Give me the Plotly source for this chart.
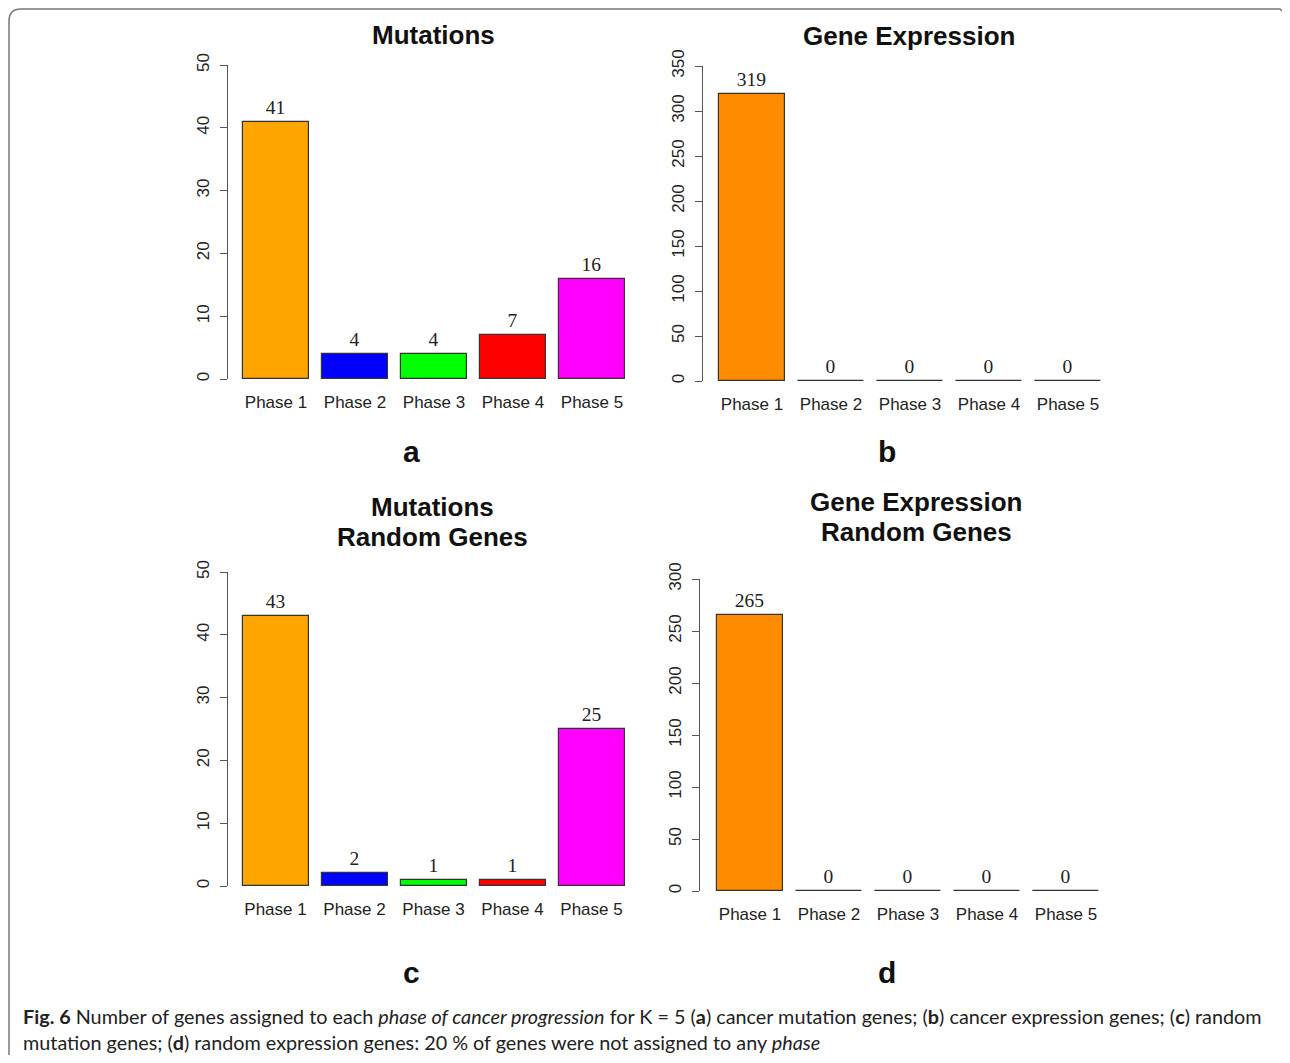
import plotly.graph_objects as go

# ---------------- data ----------------
phases = ["Phase 1", "Phase 2", "Phase 3", "Phase 4", "Phase 5"]
mut_counts = [41, 4, 4, 7, 16]
expr_counts = [319, 0, 0, 0, 0]
mut_random_counts = [43, 2, 1, 1, 25]
expr_random_counts = [265, 0, 0, 0, 0]

mut_colors = ["#FFA500", "#0000FF", "#00FF00", "#FF0000", "#FF00FF"]
expr_colors = ["#FF8C00", "#FF8C00", "#FF8C00", "#FF8C00", "#FF8C00"]

yticks_mut = [0, 10, 20, 30, 40, 50]
yticks_expr = [0, 50, 100, 150, 200, 250, 300, 350]
yticks_expr_rand = [0, 50, 100, 150, 200, 250, 300]

titles = [["Mutations"], ["Gene Expression"],
          ["Mutations", "Random Genes"], ["Gene Expression", "Random Genes"]]
letters = ["a", "b", "c", "d"]

caption_line1 = ("<b>Fig. 6</b> Number of genes assigned to each <i>phase of cancer progression</i> "
                 "for K = 5 (<b>a</b>) cancer mutation genes; (<b>b</b>) cancer expression genes; "
                 "(<b>c</b>) random")
caption_line2 = ("mutation genes; (<b>d</b>) random expression genes: 20 % of genes were not "
                 "assigned to any <i>phase</i>")

# ---------------- layout geometry (reference pixels; page body adds an 8px offset) ----------------
OFF = 8
W, H = 1290 - 2 * OFF, 1063 - 2 * OFF
STEP = 79.0
BARW = 66.0 / STEP

def fx(px):
    return (px - OFF) / W

def fy(py):
    return 1 - (py - OFF) / H

panels = [
    dict(vals=mut_counts, colors=mut_colors, ticks=yticks_mut, axis_x=228, c1=276, y0=379, ytop=65,
         title_x=433, title_y=[35], letter_xy=(411, 451)),
    dict(vals=expr_counts, colors=expr_colors, ticks=yticks_expr, axis_x=703, c1=752, y0=381, ytop=66,
         title_x=909, title_y=[36], letter_xy=(887, 451)),
    dict(vals=mut_random_counts, colors=mut_colors, ticks=yticks_mut, axis_x=228, c1=275.5, y0=886, ytop=572,
         title_x=432, title_y=[507, 537], letter_xy=(411, 972)),
    dict(vals=expr_random_counts, colors=expr_colors, ticks=yticks_expr_rand, axis_x=700, c1=750, y0=891, ytop=579,
         title_x=916, title_y=[502, 532], letter_xy=(887, 972)),
]

SANS = "Liberation Sans, Arial, sans-serif"
SERIF = "Liberation Serif, Times New Roman, serif"

fig = go.Figure()
layout = dict(width=W, height=H, margin=dict(l=0, r=0, t=0, b=0, pad=0), autosize=False,
              paper_bgcolor="white", plot_bgcolor="white", showlegend=False,
              bargap=0)
annotations = []

for i, p in enumerate(panels):
    n = i + 1
    xa = "x" if n == 1 else f"x{n}"
    ya = "y" if n == 1 else f"y{n}"
    fig.add_trace(go.Bar(
        x=list(range(len(phases))), y=p["vals"], width=BARW,
        marker=dict(color=p["colors"], line=dict(color="#333333", width=1.2)),
        text=[str(v) for v in p["vals"]], textposition="outside",
        textfont=dict(family=SERIF, size=19.5, color="#222222"),
        cliponaxis=False, xaxis=xa, yaxis=ya, hoverinfo="skip"))

    left_off = (p["c1"] - p["axis_x"]) / STEP
    x_left_px = p["axis_x"]
    x_right_px = p["c1"] + 4 * STEP + (p["c1"] - p["axis_x"])
    layout["xaxis" if n == 1 else f"xaxis{n}"] = dict(
        domain=[fx(x_left_px), fx(x_right_px)],
        range=[-left_off, 4 + left_off], automargin=False,
        anchor=ya, showline=False, showgrid=False, zeroline=False, ticks="",
        tickvals=list(range(len(phases))), ticktext=phases,
        tickfont=dict(family=SANS, size=17, color="#222222"),
        ticklabelstandoff=11, fixedrange=True)
    layout["yaxis" if n == 1 else f"yaxis{n}"] = dict(
        domain=[fy(p["y0"]), fy(p["ytop"])],
        range=[0, p["ticks"][-1]], automargin=False,
        anchor=xa, showline=True, linecolor="#555555", linewidth=1.2,
        ticks="outside", ticklen=7, tickcolor="#555555", tickwidth=1.2,
        tickvals=p["ticks"], tickangle=-90,
        tickfont=dict(family=SANS, size=17, color="#222222"),
        ticklabelstandoff=4, showgrid=False, zeroline=False, fixedrange=True)

    for t, ty in zip(titles[i], p["title_y"]):
        annotations.append(dict(text=f"<b>{t}</b>", x=fx(p["title_x"]), y=fy(ty),
                                xref="paper", yref="paper", xanchor="center", yanchor="middle",
                                showarrow=False, font=dict(family=SANS, size=26, color="#111111")))
    lx, ly = p["letter_xy"]
    annotations.append(dict(text=f"<b>{letters[i]}</b>", x=fx(lx), y=fy(ly),
                            xref="paper", yref="paper", xanchor="center", yanchor="middle",
                            showarrow=False, font=dict(family=SANS, size=30, color="#111111")))

annotations.append(dict(text=caption_line1, x=fx(21), y=fy(1016), xref="paper", yref="paper",
                        xanchor="left", yanchor="middle", showarrow=False,
                        font=dict(family="Lato, sans-serif", size=19.8, color="#222222")))
annotations.append(dict(text=caption_line2, x=fx(21), y=fy(1042), xref="paper", yref="paper",
                        xanchor="left", yanchor="middle", showarrow=False,
                        font=dict(family="Lato, sans-serif", size=19.8, color="#222222")))
layout["annotations"] = annotations

# frame with rounded top-left corner (kept just inside the figure area)
frame_path = (f"M {fx(9)} {fy(1063)} L {fx(9)} {fy(21)} Q {fx(9)} {fy(9)} {fx(21)} {fy(9)} "
              f"L {fx(1280)} {fy(9)} L {fx(1282)} {fy(11)}")
layout["shapes"] = [dict(type="path", xref="paper", yref="paper", path=frame_path,
                         line=dict(color="#777777", width=1.5))]

fig.update_layout(**layout)
fig.write_html("out.html")
